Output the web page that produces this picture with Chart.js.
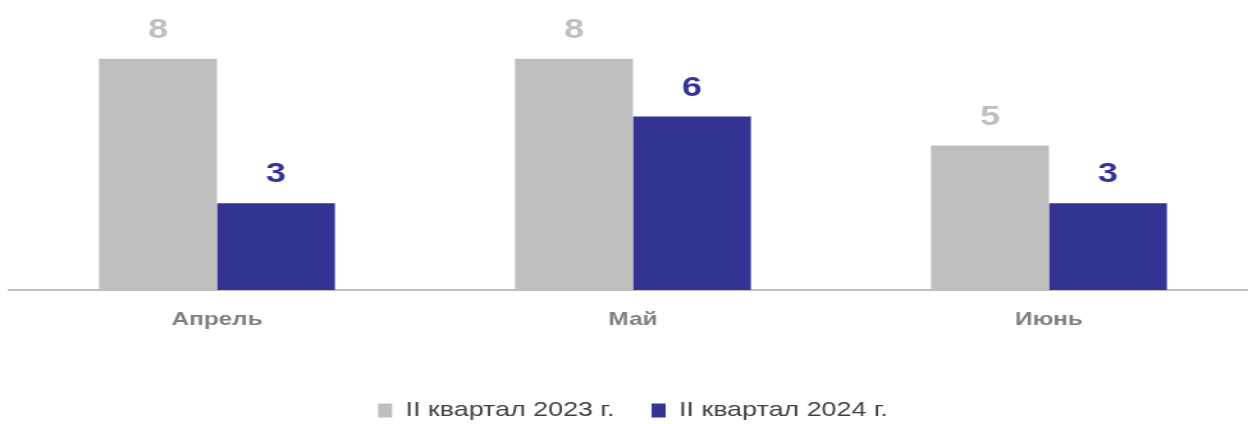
<!DOCTYPE html>
<html>
<head>
<meta charset="utf-8">
<script src="https://cdn.jsdelivr.net/npm/chart.js@4"></script>
<style>
  html, body { margin: 0; padding: 0; background: #fff; overflow: hidden; width: 1248px; height: 424px; }
  /* o gráfico original está esticado na horizontal */
  #wrap { width: 982px; height: 431px; position: relative; transform: scaleX(1.28); transform-origin: 0 0; }
</style>
</head>
<body>
<div id="wrap"><canvas id="grafico"></canvas></div>
<script>
const categorias = ["Апрель", "Май", "Июнь"];
const valores2023 = [8, 8, 5];
const valores2024 = [3, 6, 3];
const rotulos = ["II квартал 2023 г.", "II квартал 2024 г."];

const corCinza = "#bfbfbf";
const corAzul = "#343495";
const fonte = "'Liberation Sans', Arial, sans-serif";

// rótulos de valor acima das barras
const pluginValores = {
  id: "valores",
  afterDatasetsDraw(chart) {
    const ctx = chart.ctx;
    ctx.save();
    ctx.font = "bold 28px " + fonte;
    ctx.textAlign = "center";
    ctx.textBaseline = "alphabetic";
    chart.data.datasets.forEach((ds, i) => {
      const meta = chart.getDatasetMeta(i);
      ctx.fillStyle = ds.backgroundColor;
      meta.data.forEach((bar, j) => {
        ctx.fillText(ds.data[j], bar.x, bar.y - 21);
      });
    });
    ctx.restore();
  },
};

new Chart(document.getElementById("grafico").getContext("2d"), {
  type: "bar",
  data: {
    labels: categorias,
    datasets: [
      { label: rotulos[0], data: valores2023, backgroundColor: corCinza },
      { label: rotulos[1], data: valores2024, backgroundColor: corAzul },
    ],
  },
  options: {
    responsive: true,
    maintainAspectRatio: false,
    animation: false,
    layout: { padding: { left: 7, right: 0, top: 1, bottom: 0 } },
    datasets: {
      bar: { barPercentage: 1, categoryPercentage: 0.567 },
    },
    scales: {
      x: {
        grid: { display: false, drawTicks: false },
        border: { color: "#bfbfbf", width: 2 },
        ticks: {
          color: "#808080",
          padding: 18,
          font: { family: fonte, size: 19, weight: "bold" },
        },
        afterFit: (scale) => {
          scale.height = 81;
        },
      },
      y: {
        display: false,
        min: 0,
        max: 10,
      },
    },
    plugins: {
      tooltip: { enabled: false },
      legend: {
        display: true,
        position: "bottom",
        labels: {
          color: "#404040",
          boxWidth: 11,
          boxHeight: 14,
          padding: 29,
          font: { family: fonte, size: 21 },
        },
      },
    },
  },
  plugins: [pluginValores],
});
</script>
</body>
</html>
